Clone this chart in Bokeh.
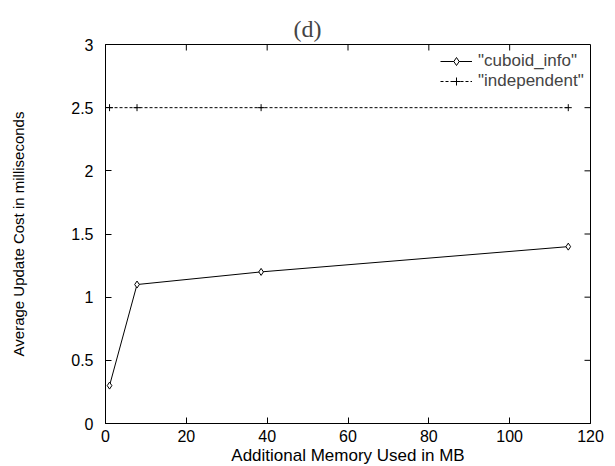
import math
from bokeh.plotting import figure
from bokeh.models import Range1d, FixedTicker, Legend, LegendItem, LinearAxis
from bokeh.embed import file_html
from bokeh.resources import INLINE

memory_mb = [1, 7.8, 38.5, 114.5]
cuboid_info = [0.3, 1.1, 1.2, 1.4]
independent = [2.5, 2.5, 2.5, 2.5]
x_ticks = [0, 20, 40, 60, 80, 100, 120]
y_ticks = [0, 0.5, 1, 1.5, 2, 2.5, 3]
y_tick_labels = ["0", "0.5", "1", "1.5", "2", "2.5", "3"]

SANS = "Liberation Sans"
x_min, x_max = x_ticks[0], x_ticks[-1]
y_min, y_max = y_ticks[0], y_ticks[-1]

p = figure(frame_width=485, frame_height=379,
           x_range=Range1d(x_min, x_max), y_range=Range1d(y_min, y_max),
           output_backend="svg", toolbar_location=None,
           min_border_left=105, min_border_right=24,
           min_border_top=44, min_border_bottom=43,
           x_axis_label="Additional Memory Used in MB",
           y_axis_label="Average Update Cost in milliseconds")

bottom_axis = p.below[0]
left_axis = p.left[0]

p.title.text = "(d)"
p.title.text_font = "Liberation Serif"
p.title.text_font_size = "24px"
p.title.text_font_style = "normal"
p.title.align = "left"
p.title.offset = 188
p.title.standoff = 6

p.outline_line_color = "black"
p.outline_line_width = 1
p.xgrid.visible = False
p.ygrid.visible = False
p.background_fill_color = "white"
p.border_fill_color = "white"

for ax in (bottom_axis, left_axis):
    ax.axis_line_color = "black"
    ax.major_tick_in = 6
    ax.major_tick_out = 0
    ax.minor_tick_in = 0
    ax.minor_tick_out = 0
    ax.major_tick_line_color = "black"
    ax.major_label_text_font = SANS
    ax.major_label_text_font_size = "16px"
    ax.major_label_text_color = "black"
    ax.axis_label_text_font = SANS
    ax.axis_label_text_font_style = "normal"
    ax.axis_label_text_color = "black"

bottom_axis.ticker = FixedTicker(ticks=x_ticks)
left_axis.ticker = FixedTicker(ticks=y_ticks)
left_axis.major_label_overrides = {t: l for t, l in zip(y_ticks, y_tick_labels)}
bottom_axis.major_label_standoff = 6
left_axis.major_label_standoff = 12
bottom_axis.axis_label_text_font_size = "17px"
left_axis.axis_label_text_font_size = "15px"
bottom_axis.axis_label_standoff = 1
left_axis.axis_label_standoff = 41

# empty spacer between the frame and the title (no ticks, no labels)
spacer = LinearAxis(ticker=FixedTicker(ticks=[]), axis_line_color=None,
                    major_tick_line_color=None, minor_tick_line_color=None,
                    major_tick_in=0, major_tick_out=0,
                    minor_tick_in=0, minor_tick_out=0,
                    major_label_standoff=10)
p.add_layout(spacer, "above")

# mirrored inward ticks on top and right edges (clipped to the frame)
p.scatter(x_ticks[1:-1], [y_max] * (len(x_ticks) - 2), marker="dash",
          angle=math.pi / 2, size=12, line_color="black", line_width=1)
p.scatter([x_max] * (len(y_ticks) - 2), y_ticks[1:-1], marker="dash",
          size=12, line_color="black", line_width=1)

l1 = p.line(memory_mb, cuboid_info, line_color="black", line_width=1)
m1 = p.scatter(memory_mb, cuboid_info, marker="diamond", size=7,
               fill_color="white", line_color="black", line_width=1)
l2 = p.line(memory_mb, independent, line_color="black", line_width=1,
            line_dash="3 2")
m2 = p.scatter(memory_mb, independent, marker="cross", size=7,
               line_color="black", line_width=1)

legend = Legend(items=[LegendItem(label='"cuboid_info"', renderers=[l1, m1]),
                       LegendItem(label='"independent"', renderers=[l2, m2])],
                location=(335, 332))
legend.border_line_color = None
legend.background_fill_alpha = 0
legend.label_text_font = SANS
legend.label_text_font_size = "17px"
legend.glyph_width = 32
legend.label_standoff = 6
legend.spacing = -2
legend.padding = 0
legend.margin = 0
p.add_layout(legend)

open("out.html", "w").write(file_html(p, INLINE))
